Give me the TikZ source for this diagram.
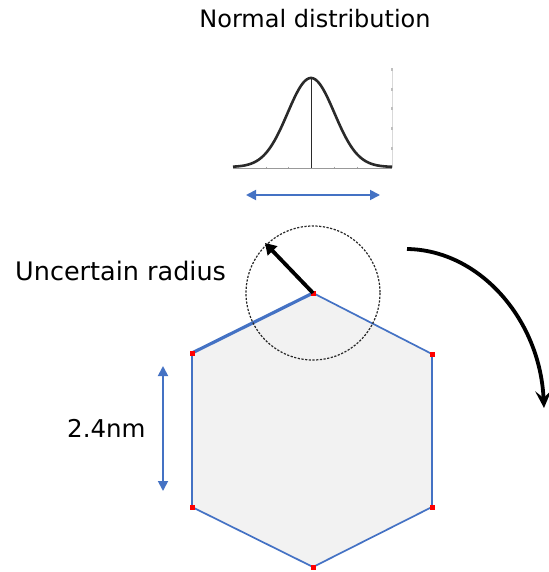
\documentclass[tikz,border=0pt]{standalone}
\usepackage{fontspec}
\setmainfont{DejaVu Sans}
\usetikzlibrary{arrows.meta}
\definecolor{hexblue}{HTML}{4472C4}
\definecolor{hexfill}{HTML}{F2F2F2}
\definecolor{curvegray}{HTML}{2A2A2A}
\tikzset{
  lbl/.style={font=\fontsize{24}{28}\selectfont, inner sep=0pt, text=black},
  edge/.style={draw=hexblue, line width=1.7pt},
  vtx/.style={fill=red, minimum size=5pt, inner sep=0pt},
  bluearrow/.style={draw=hexblue, line width=1.8pt, {Triangle[width=10pt,length=10pt]}-{Triangle[width=10pt,length=10pt]}},
}
\begin{document}
\begin{tikzpicture}[x=1pt,y=-1pt]
\useasboundingbox (0,0) rectangle (548,572);
% title
\node[lbl, anchor=base] (title) at (315,28) {Normal distribution};
% distribution plot
\coordinate (bl) at (233,168);
\coordinate (br) at (392,168);
\draw[gray!80, line width=0.9pt] (bl) -- (br);
\foreach \t in {266,288,334,357} \draw[gray!70, line width=0.8pt] (\t,166.5) -- (\t,168);
\draw[gray!30, line width=0.4pt] (392,70) -- (392,168);
\foreach \t in {70,90,109,129,149} \fill[gray!50] (391,\t-1.5) rectangle (393,\t+1.5);
\draw[curvegray, line width=2.6pt, line join=round] plot[domain=233:392, samples=120] (\x, {167-89*exp(-(\x-311)*(\x-311)/(2*23.4*23.4))});
\draw[curvegray, line width=1pt] (311,79) -- (311,168);
\coordinate (dl) at (246,195);
\coordinate (dr) at (380,195);
\draw[bluearrow] (dl) -- (dr);
% hexagon
\coordinate (T) at (313,293);
\coordinate (UL) at (192,353);
\coordinate (UR) at (432,354);
\coordinate (LL) at (192,507);
\coordinate (LR) at (432,507);
\coordinate (B) at (313,567);
\fill[hexfill] (T) -- (UR) -- (LR) -- (B) -- (LL) -- (UL) -- cycle;
\draw[edge] (T) -- (UR) -- (LR) -- (B) -- (LL) -- (UL);
\draw[hexblue, line width=3.2pt, line cap=round] (UL) -- (T);
\foreach \v in {T,UL,UR,LL,LR,B} \node[vtx] at (\v) {};
% uncertainty circle
\draw[black!85, dashed, dash pattern=on 2.2pt off 1.5pt, line width=1.2pt] (T) circle[radius=67];
\coordinate (rtip) at (265,243);
\draw[black, line width=3.8pt, -{Triangle[width=13pt,length=11pt]}] (T) -- (rtip);
\node[lbl, anchor=base west, font=\fontsize{25.5}{30}\selectfont] (unc) at (15,280) {Uncertain radius};
% height arrow
\coordinate (ht) at (163,366);
\coordinate (hb) at (163,491);
\draw[bluearrow] (ht) -- (hb);
\node[lbl, anchor=base west, font=\fontsize{24.5}{29}\selectfont] (h) at (67,437) {2.4nm};
% rotation arrow
\coordinate (rs) at (407,249);
\coordinate (re) at (544,408);
\draw[black, line width=3.8pt, -{Stealth[width=16pt,length=17pt,inset=7pt]}] (rs) .. controls (480,250) and (540,320) .. (re);
\end{tikzpicture}
\end{document}
